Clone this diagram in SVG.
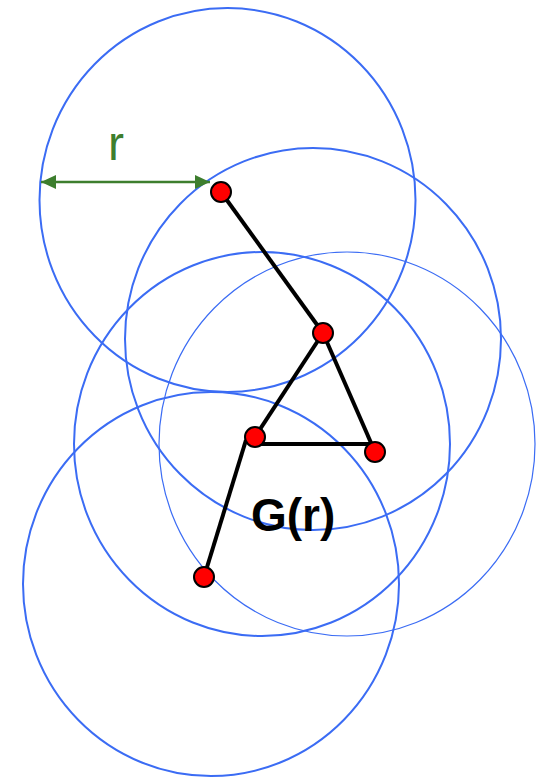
<svg xmlns="http://www.w3.org/2000/svg" width="545" height="778" viewBox="0 0 545 778">
<style>
.c{fill:none;stroke:#3b6cf4;stroke-width:2}
.thin{stroke-width:1.2}
.e{stroke:#000;stroke-width:4;fill:none}
.n{fill:#f00;stroke:#000;stroke-width:2}
.g{stroke:#3d7e2e;stroke-width:2.5;fill:none}
</style>
<defs>
<marker id="ah" viewBox="0 0 15 14" refX="15" refY="7" markerWidth="15" markerHeight="14" markerUnits="userSpaceOnUse" orient="auto-start-reverse">
<path d="M0,0 L15,7 L0,14 Z" fill="#3d7e2e"/>
</marker>
</defs>
<rect width="545" height="778" fill="#fff"/>
<g id="ranges">
<ellipse class="c" cx="227.5" cy="200" rx="188" ry="192"/>
<ellipse class="c" cx="313" cy="339" rx="188" ry="191"/>
<ellipse class="c" cx="262" cy="444" rx="188" ry="192"/>
<ellipse class="c thin" cx="347" cy="444" rx="188" ry="192"/>
<ellipse class="c" cx="211" cy="584" rx="188" ry="192"/>
</g>
<g id="connectors">
<line class="e" x1="221" y1="192" x2="323" y2="333"/>
<line class="e" x1="323" y1="333" x2="255" y2="437"/>
<line class="e" x1="323" y1="333" x2="375" y2="452"/>
<line class="e" x1="255" y1="444" x2="372" y2="444"/>
<line class="e" x1="246" y1="440" x2="204" y2="577"/>
</g>
<g id="radius">
<line class="g" x1="41" y1="182" x2="210" y2="182" marker-start="url(#ah)" marker-end="url(#ah)"/>
<text x="116" y="160" font-family="Liberation Sans, Arial, sans-serif" font-size="48" fill="#3d7e2e" text-anchor="middle">r</text>
</g>
<g id="n1"><circle class="n" cx="221" cy="192" r="10"/></g>
<g id="n2"><circle class="n" cx="323" cy="333" r="10"/></g>
<g id="n3"><circle class="n" cx="255" cy="437" r="10"/></g>
<g id="n4"><circle class="n" cx="375" cy="452" r="10"/></g>
<g id="n5"><circle class="n" cx="204" cy="577" r="10"/></g>
<g id="label">
<text x="251" y="531" font-family="Liberation Sans, Arial, sans-serif" font-size="46" font-weight="bold" fill="#000">G(r)</text>
</g>
</svg>
